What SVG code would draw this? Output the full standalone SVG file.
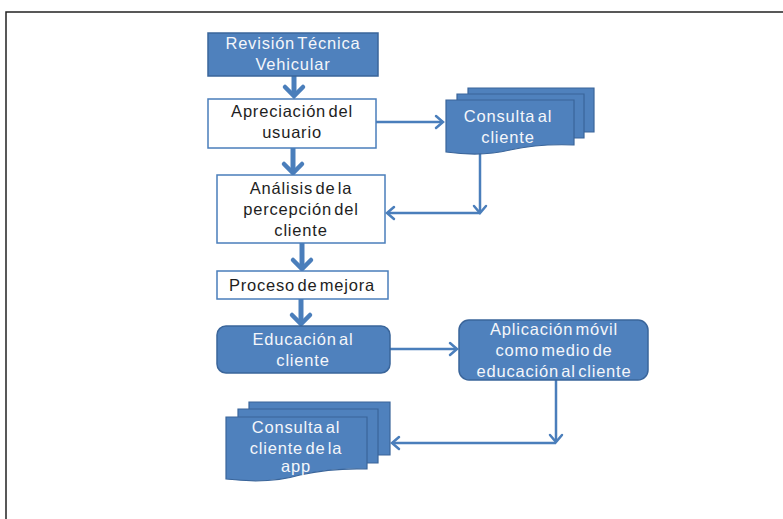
<svg xmlns="http://www.w3.org/2000/svg" width="783" height="519" viewBox="0 0 783 519">
  <defs>
    <style>
      .filled { fill: #4F81BD; stroke: #3A659A; stroke-width: 1.5; }
      .plain { fill: #FFFFFF; stroke: #4A7EBB; stroke-width: 1.5; }
      .page { fill: #4F81BD; stroke: #3A659A; stroke-width: 1.2; }
      .lbl { font-family: "Liberation Sans", Arial, sans-serif; font-size: 16.5px; letter-spacing: 0.8px; word-spacing: -3px; text-anchor: middle; }
      .dark { fill: #1E1E1E; }
      .light { fill: #F4F6FA; }
      .thick { stroke: #4A7EBB; stroke-width: 5; fill: none; }
      .thin { stroke: #4A7EBB; stroke-width: 2.5; fill: none; }
      .head-thick { stroke: #4A7EBB; stroke-width: 4.5; fill: none; stroke-linecap: round; stroke-linejoin: miter; }
      .head-thin { stroke: #4A7EBB; stroke-width: 2.5; fill: none; stroke-linecap: round; }
      .frame { stroke: #222222; stroke-width: 1.5; fill: none; }
    </style>
  </defs>

  <rect width="783" height="519" fill="#FFFFFF"/>

  <!-- page frame -->
  <path class="frame" d="M783,12 H6 V519"/>

  <!-- connectors -->
  <g id="connectors">
    <!-- main vertical flow -->
    <line class="thick" x1="294" y1="76" x2="294" y2="95"/>
    <polyline class="head-thick" points="285,87 294,96 303,87"/>
    <line class="thick" x1="293" y1="148" x2="293" y2="172"/>
    <polyline class="head-thick" points="284,164 293,173 302,164"/>
    <line class="thick" x1="302" y1="243" x2="302" y2="268"/>
    <polyline class="head-thick" points="293,260 302,269 311,260"/>
    <line class="thick" x1="301" y1="299" x2="301" y2="323"/>
    <polyline class="head-thick" points="292,315 301,324 310,315"/>

    <!-- to first document stack -->
    <line class="thin" x1="376" y1="122" x2="443" y2="122"/>
    <polyline class="head-thin" points="436,116 443,122 436,128"/>

    <!-- back from first document stack -->
    <line class="thin" x1="480" y1="152" x2="480" y2="213"/>
    <polyline class="head-thin" points="474,206 480,213 486,206"/>
    <line class="thin" x1="480" y1="213" x2="387" y2="213"/>
    <polyline class="head-thin" points="394,207 387,213 394,219"/>

    <!-- to mobile app node -->
    <line class="thin" x1="390" y1="349" x2="457" y2="349"/>
    <polyline class="head-thin" points="450,343 457,349 450,355"/>

    <!-- down and back to second document stack -->
    <line class="thin" x1="556" y1="380" x2="556" y2="442"/>
    <polyline class="head-thin" points="550,435 556,442 562,435"/>
    <line class="thin" x1="556" y1="443" x2="392" y2="443"/>
    <polyline class="head-thin" points="399,437 392,443 399,449"/>
  </g>

  <g id="revision-tecnica">
    <rect class="filled" x="208" y="33" width="170" height="43"/>
    <text class="lbl light" x="293" y="49">Revisión Técnica</text>
    <text class="lbl light" x="293" y="70">Vehicular</text>
  </g>

  <g id="apreciacion-usuario">
    <rect class="plain" x="208" y="99" width="168" height="49"/>
    <text class="lbl dark" x="292" y="117">Apreciación del</text>
    <text class="lbl dark" x="292" y="138">usuario</text>
  </g>

  <g id="consulta-cliente">
    <path class="page" d="M468,88 H594 V132 H468 Z"/>
    <path class="page" d="M457,94 H584 V138 H457 Z"/>
    <path class="page" d="M446,100 H574 V145 C548,144 528,146 510,150 C490,155 468,155 446,152 Z"/>
    <text class="lbl light" x="508" y="122">Consulta al</text>
    <text class="lbl light" x="508" y="143">cliente</text>
  </g>

  <g id="analisis-percepcion">
    <rect class="plain" x="217" y="175" width="168" height="68"/>
    <text class="lbl dark" x="301" y="194">Análisis de la</text>
    <text class="lbl dark" x="301" y="215">percepción del</text>
    <text class="lbl dark" x="301" y="236">cliente</text>
  </g>

  <g id="proceso-mejora">
    <rect class="plain" x="217" y="271" width="171" height="28"/>
    <text class="lbl dark" x="302" y="291">Proceso de mejora</text>
  </g>

  <g id="educacion-cliente">
    <rect class="filled" x="217" y="326" width="173" height="47" rx="9"/>
    <text class="lbl light" x="303" y="345">Educación al</text>
    <text class="lbl light" x="303" y="366">cliente</text>
  </g>

  <g id="aplicacion-movil">
    <rect class="filled" x="459" y="320" width="189" height="60" rx="10"/>
    <text class="lbl light" x="554" y="335">Aplicación móvil</text>
    <text class="lbl light" x="554" y="356">como medio de</text>
    <text class="lbl light" x="554" y="377">educación al cliente</text>
  </g>

  <g id="consulta-cliente-app">
    <path class="page" d="M249,402 H390 V455 H249 Z"/>
    <path class="page" d="M238,409 H378 V463 H238 Z"/>
    <path class="page" d="M226,417 H367 V469 C340,468 318,471 300,475 C280,481 252,482 226,479 Z"/>
    <text class="lbl light" x="296" y="433">Consulta al</text>
    <text class="lbl light" x="296" y="454">cliente de la</text>
    <text class="lbl light" x="296" y="472">app</text>
  </g>
</svg>
